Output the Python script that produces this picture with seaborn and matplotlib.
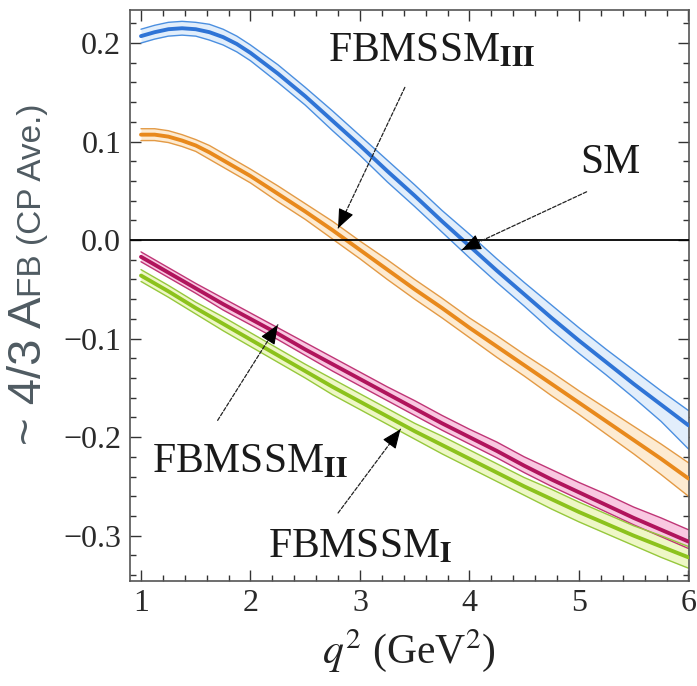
import numpy as np
import pandas as pd
import matplotlib
matplotlib.use("Agg")
import matplotlib.pyplot as plt
import seaborn as sns
from matplotlib.ticker import MultipleLocator, FuncFormatter

# ---------------- data ----------------
q2 = [1.00, 1.25, 1.50, 1.75, 2.00, 2.25, 2.50, 2.75, 3.00, 3.25, 3.50,
      3.75, 4.00, 4.25, 4.50, 4.75, 5.00, 5.25, 5.50, 5.75, 6.00]
q2_fine = [1.000, 1.125, 1.250, 1.375, 1.500, 1.625, 1.750, 1.875, 2.000,
           2.25, 2.50, 2.75, 3.00, 3.25, 3.50, 3.75, 4.00, 4.25, 4.50,
           4.75, 5.00, 5.25, 5.50, 5.75, 6.00]

sm_mid = [0.207, 0.211, 0.214, 0.215, 0.214, 0.211, 0.206, 0.199, 0.190,
          0.169, 0.146, 0.121, 0.096, 0.070, 0.045, 0.019, -0.006, -0.031, -0.055,
          -0.079, -0.102, -0.124, -0.146, -0.167, -0.188]
sm_up = [0.007, 0.007, 0.007, 0.007, 0.007, 0.008, 0.008, 0.008, 0.008,
         0.009, 0.009, 0.010, 0.010, 0.011, 0.011, 0.011, 0.012, 0.012, 0.012,
         0.013, 0.013, 0.013, 0.014, 0.014, 0.015]
sm_dn = [0.007, 0.007, 0.007, 0.007, 0.007, 0.008, 0.008, 0.008, 0.008,
         0.009, 0.009, 0.010, 0.010, 0.011, 0.011, 0.011, 0.012, 0.012, 0.012,
         0.013, 0.013, 0.013, 0.014, 0.017, 0.024]

f3_mid = [0.107, 0.107, 0.105, 0.101, 0.096, 0.089, 0.081, 0.073, 0.065,
          0.047, 0.029, 0.010, -0.010, -0.030, -0.050, -0.069, -0.089, -0.108, -0.127,
          -0.146, -0.165, -0.184, -0.203, -0.222, -0.242]
f3_up = [0.006, 0.006, 0.006, 0.006, 0.006, 0.007, 0.007, 0.007, 0.007,
         0.008, 0.008, 0.009, 0.009, 0.010, 0.010, 0.010, 0.010, 0.011, 0.011,
         0.012, 0.012, 0.013, 0.014, 0.015, 0.016]
f3_dn = [0.006, 0.006, 0.006, 0.006, 0.006, 0.007, 0.007, 0.007, 0.007,
         0.008, 0.008, 0.009, 0.009, 0.010, 0.010, 0.010, 0.010, 0.011, 0.011,
         0.012, 0.012, 0.013, 0.014, 0.016, 0.018]

f2_mid = [-0.017, -0.033, -0.049, -0.065, -0.080, -0.095, -0.111, -0.126, -0.141, -0.156, -0.171,
          -0.186, -0.200, -0.214, -0.229, -0.243, -0.256, -0.269, -0.282, -0.294, -0.306]
f2_up = [0.005, 0.005, 0.005, 0.006, 0.006, 0.006, 0.007, 0.007, 0.007, 0.007, 0.008,
         0.008, 0.008, 0.009, 0.009, 0.010, 0.010, 0.011, 0.011, 0.012, 0.012]
f2_dn = [0.005, 0.005, 0.005, 0.006, 0.006, 0.006, 0.006, 0.007, 0.007, 0.007, 0.007,
         0.007, 0.007, 0.007, 0.007, 0.007, 0.007, 0.007, 0.007, 0.007, 0.007]

f1_mid = [-0.036, -0.052, -0.069, -0.085, -0.101, -0.117, -0.133, -0.149, -0.164, -0.179, -0.194,
          -0.208, -0.222, -0.236, -0.250, -0.263, -0.276, -0.288, -0.300, -0.311, -0.322]
f1_up = [0.006, 0.006, 0.006, 0.007, 0.007, 0.007, 0.007, 0.008, 0.008, 0.008, 0.008,
         0.009, 0.009, 0.009, 0.009, 0.010, 0.010, 0.010, 0.010, 0.011, 0.011]
f1_dn = f1_up

x_ticks = [1, 2, 3, 4, 5, 6]
y_ticks = [-0.3, -0.2, -0.1, 0.0, 0.1, 0.2]

# ---------------- style ----------------
sns.set_style("ticks")
plt.rcParams["font.family"] = ["Liberation Serif", "DejaVu Serif"]
plt.rcParams["mathtext.fontset"] = "stix"
plt.rcParams["axes.unicode_minus"] = True

series = [
    # name, x, mid, up, dn, centre colour, edge colour, fill colour
    ("SM", q2_fine, sm_mid, sm_up, sm_dn, "#2f74d6", "#4b8fe0", "#e2eefb"),
    ("FBMSSM_III", q2_fine, f3_mid, f3_up, f3_dn, "#e8891c", "#e39a45", "#fdebd2"),
    ("FBMSSM_II", q2, f2_mid, f2_up, f2_dn, "#b0145c", "#bf3576", "#f9c8e1"),
    ("FBMSSM_I", q2, f1_mid, f1_up, f1_dn, "#8cc21c", "#96c83c", "#eef7c6"),
]

fig = plt.figure(figsize=(6.97, 6.86), dpi=100)
ax = fig.add_axes([0.1858, 0.1531, 0.9885 - 0.1858, 0.9854 - 0.1531])

for name, xs, mid, up, dn, c_mid, c_edge, c_fill in series:
    mid_a = np.array(mid)
    hi = mid_a + np.array(up)
    lo = mid_a - np.array(dn)
    df = pd.DataFrame({"q2": xs, "mid": mid_a, "hi": hi, "lo": lo})
    ax.fill_between(df["q2"], df["lo"], df["hi"], color=c_fill, lw=0, zorder=1)
    sns.lineplot(data=df, x="q2", y="hi", color=c_edge, lw=1.0, ax=ax, zorder=2)
    sns.lineplot(data=df, x="q2", y="lo", color=c_edge, lw=1.0, ax=ax, zorder=2)
    sns.lineplot(data=df, x="q2", y="mid", color=c_mid, lw=2.8, ax=ax, zorder=3)

ax.axhline(0.0, color="black", lw=1.3, zorder=4)

ax.set_xlim(0.895, 6.005)
ax.set_ylim(-0.346, 0.2335)
ax.set_xticks(x_ticks)
ax.set_yticks(y_ticks)
ax.xaxis.set_minor_locator(MultipleLocator(0.2))
ax.yaxis.set_minor_locator(MultipleLocator(0.02))
ax.yaxis.set_major_formatter(FuncFormatter(lambda v, p: f"{v:.1f}".replace("-", "\u2212")))
ax.tick_params(which="both", direction="in", top=True, right=True,
               color="#333333", width=1.0)
ax.tick_params(which="major", length=8, labelsize=23, labelcolor="#2a2a2a", pad=6)
ax.tick_params(which="minor", length=4)
for sp in ax.spines.values():
    sp.set_color("#555555")
    sp.set_linewidth(1.2)

ax.set_xlabel(r"$q^2$ (GeV$^2$)", fontsize=30, color="#222222", labelpad=6)
ax.set_ylabel("")

# ---------------- labels & arrows ----------------
labels = [
    (r"FBMSSM$_{\mathbf{III}}$", 2.71, 0.181, (3.41, 0.155), (2.80, 0.012)),
    ("SM", 5.01, 0.068, (5.07, 0.049), (3.93, -0.010)),
    (r"FBMSSM$_{\mathbf{II}}$", 1.10, -0.236, (1.70, -0.183), (2.25, -0.086)),
    (r"FBMSSM$_{\mathbf{I}}$", 2.16, -0.322, (2.80, -0.277), (3.37, -0.192)),
]
for txt, tx, ty, tail, tip in labels:
    ax.text(tx, ty, txt, fontsize=30, color="#1a1a1a", ha="left", va="baseline", zorder=6)
    ax.annotate("", xy=tip, xytext=tail,
                arrowprops=dict(arrowstyle="-", lw=0.9, color="#222222",
                                linestyle=(0, (3, 1.5)), shrinkA=0, shrinkB=0), zorder=6)
    dx, dy = tip[0] - tail[0], tip[1] - tail[1]
    ax.annotate("", xy=tip, xytext=(tip[0] - 0.12 * dx, tip[1] - 0.12 * dy),
                arrowprops=dict(arrowstyle="-|>,head_length=1.2,head_width=0.5",
                                lw=0.8, color="black", shrinkA=0, shrinkB=0), zorder=7)

# ---------------- y label (two sizes, baseline aligned) ----------------
ycol = "#4f5b62"
fig.canvas.draw()
renderer = fig.canvas.get_renderer()
t1 = fig.text(0.0588, 0.351, "~ 4/3 A", rotation=90, rotation_mode="anchor",
              ha="left", va="baseline", fontsize=34, color=ycol,
              family=["Liberation Sans", "DejaVu Sans"])
bb = t1.get_window_extent(renderer=renderer)
y2 = 0.351 + bb.height / fig.bbox.height
fig.text(0.0588, y2, "FB (CP Ave.)", rotation=90, rotation_mode="anchor",
         ha="left", va="baseline", fontsize=24, color=ycol,
         family=["Liberation Sans", "DejaVu Sans"])

fig.savefig("out.png", dpi=100)
